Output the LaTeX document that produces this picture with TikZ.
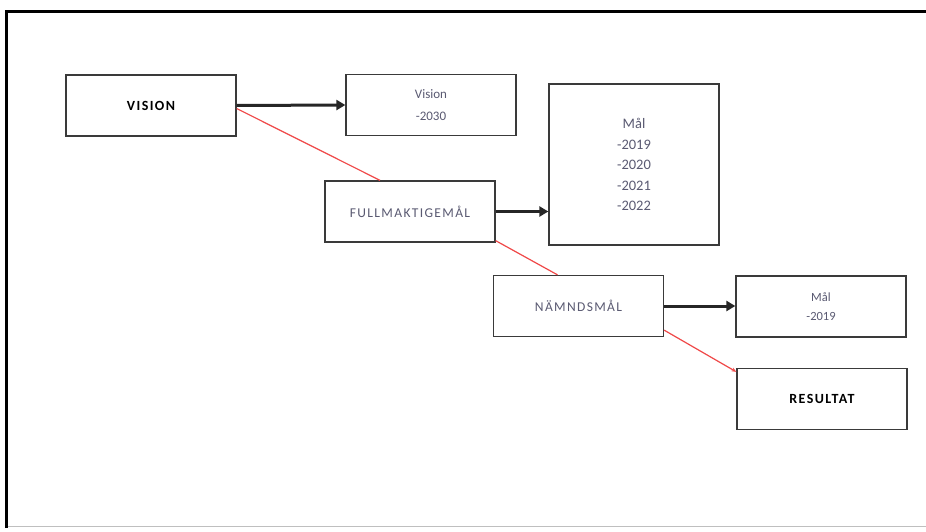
\documentclass[tikz,border=0pt]{standalone}
\usepackage{fontspec}
\setmainfont{Carlito}
\newfontfamily\capsfont[LetterSpace=10]{Carlito}
\usetikzlibrary{arrows.meta}
\definecolor{boxline}{HTML}{3A3A3A}
\definecolor{txt}{HTML}{5A5A72}
\definecolor{redline}{HTML}{F04848}
\tikzset{
  box/.style={draw=boxline, line width=1.3pt, fill=white, minimum width=170pt, minimum height=61pt, inner sep=0pt, align=center, font=\fontsize{13}{22}\selectfont, text=txt},
  capsbox/.style={box, font=\capsfont\fontsize{13.5}{16}\selectfont},
  boldbox/.style={box, font=\capsfont\bfseries\fontsize{14}{16}\selectfont, text=black},
  blk/.style={draw=black!85, line width=3pt, -{Triangle[length=9pt,width=10pt]}},
  red/.style={draw=redline, line width=1.2pt}
}
\begin{document}
\begin{tikzpicture}[x=1pt,y=-1pt]
\useasboundingbox (0,0) rectangle (926,532);
\fill[white] (0,0) rectangle (926,532);
% frame
\draw[black!25, line width=1pt] (7,526) -- (926,526);
\draw[black, line width=3pt] (6,528) -- (6,12) -- (926,12);
% nodes
\node[boldbox] (vision) at (151,105.5) {VISION};
\node[box] (v2030) at (431,105) {Vision\\-2030};
\node[capsbox] (full) at (410,211.5) {FULLMAKTIGEMÅL};
\node[box, minimum height=161pt, font=\fontsize{14.5}{20.5}\selectfont] (mal) at (634,164.5) {Mål\\-2019\\-2020\\-2021\\-2022};
\node[capsbox] (namnd) at (578.5,306) {NÄMNDSMÅL};
\node[box, font=\fontsize{12.5}{19}\selectfont] (mal19) at (821,306.5) {Mål\\-2019};
\node[boldbox] (res) at (822,399) {RESULTAT};
% connectors
\draw[blk] (vision.east) -- (v2030.west);
\draw[blk] (full.east) -- (mal.west |- full.east);
\draw[blk] (namnd.east) -- (mal19.west |- namnd.east);
\draw[red] ([yshift=-3pt]vision.east) -- ([xshift=-30pt]full.north);
\draw[red] ([yshift=2pt]full.south east) -- ([xshift=-21pt]namnd.north);
\draw[red, -{Stealth[length=5pt,width=4pt]}] ([yshift=7pt]namnd.south east) -- ([yshift=-4pt]res.north west);
\end{tikzpicture}
\end{document}
